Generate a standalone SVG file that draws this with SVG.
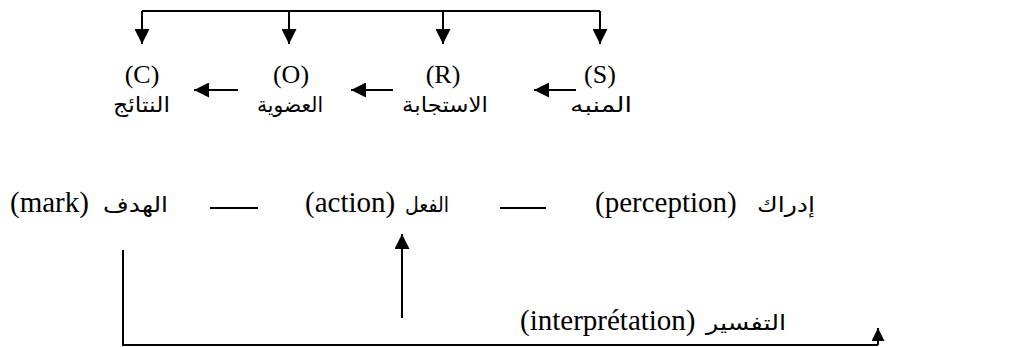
<svg xmlns="http://www.w3.org/2000/svg" width="1020" height="347" viewBox="0 0 1020 347">
<defs>
<style>
.t{font-family:"Liberation Serif","DejaVu Serif",serif;font-size:26px;fill:#000}
.t2{font-family:"Liberation Serif","DejaVu Serif",serif;font-size:29px;fill:#000}
.a{font-family:"DejaVu Sans","Liberation Serif",sans-serif;font-size:21px;fill:#000}
.l{stroke:#000;stroke-width:2;fill:none}
</style>
<marker id="ahb" viewBox="0 0 10 10" refX="10" refY="5" markerWidth="15" markerHeight="15" markerUnits="userSpaceOnUse" orient="auto">
<path d="M0,0 L10,5 L0,10 z" fill="#000"/>
</marker>
<marker id="ahs" viewBox="0 0 10 10" refX="10" refY="5" markerWidth="13" markerHeight="13" markerUnits="userSpaceOnUse" orient="auto">
<path d="M0,0 L10,5 L0,10 z" fill="#000"/>
</marker>
</defs>
<rect width="1020" height="347" fill="#fff"/>
<g id="connectors">
<polyline class="l" points="142,11 600,11"/>
<line class="l" x1="142" y1="11" x2="142" y2="44" marker-end="url(#ahb)"/>
<line class="l" x1="289" y1="11" x2="289" y2="44" marker-end="url(#ahb)"/>
<line class="l" x1="443" y1="11" x2="443" y2="44" marker-end="url(#ahb)"/>
<line class="l" x1="600" y1="11" x2="600" y2="44" marker-end="url(#ahb)"/>
<line class="l" x1="238" y1="90" x2="194" y2="90" marker-end="url(#ahb)"/>
<line class="l" x1="393" y1="90" x2="351" y2="90" marker-end="url(#ahb)"/>
<line class="l" x1="576" y1="90" x2="534" y2="90" marker-end="url(#ahb)"/>
<line class="l" x1="210" y1="208" x2="258" y2="208"/>
<line class="l" x1="500" y1="208" x2="546" y2="208"/>
<polyline class="l" points="123,250 123,345 878,345"/>
<line class="l" x1="402" y1="318" x2="402" y2="234" marker-end="url(#ahb)"/>
<line class="l" x1="878" y1="345" x2="878" y2="328" marker-end="url(#ahs)"/>
</g>
<g id="node-C">
<text class="t" x="142" y="83" text-anchor="middle">(C)</text>
<text class="a" x="113" y="112" textLength="57" lengthAdjust="spacingAndGlyphs">النتائج</text>
</g>
<g id="node-O">
<text class="t" x="291" y="83" text-anchor="middle">(O)</text>
<text class="a" x="257" y="112" textLength="66" lengthAdjust="spacingAndGlyphs">العضوية</text>
</g>
<g id="node-R">
<text class="t" x="443" y="83" text-anchor="middle">(R)</text>
<text class="a" x="402" y="112" textLength="86" lengthAdjust="spacingAndGlyphs">الاستجابة</text>
</g>
<g id="node-S">
<text class="t" x="600" y="83" text-anchor="middle">(S)</text>
<text class="a" x="570" y="112" textLength="62" lengthAdjust="spacingAndGlyphs">المنبه</text>
</g>
<g id="node-mark">
<text class="t2" x="10" y="212">(mark)</text>
<text class="a" x="103" y="212" textLength="65" lengthAdjust="spacingAndGlyphs">الهدف</text>
</g>
<g id="node-action">
<text class="t2" x="305" y="212">(action)</text>
<text class="a" x="405" y="212" textLength="44" lengthAdjust="spacingAndGlyphs">الفعل</text>
</g>
<g id="node-perception">
<text class="t2" x="595" y="212">(perception)</text>
<text class="a" x="757" y="212" textLength="58" lengthAdjust="spacingAndGlyphs">إدراك</text>
</g>
<g id="node-interpretation">
<text class="t2" x="520" y="330">(interprétation)</text>
<text class="a" x="706" y="330" textLength="80" lengthAdjust="spacingAndGlyphs">التفسير</text>
</g>
</svg>
